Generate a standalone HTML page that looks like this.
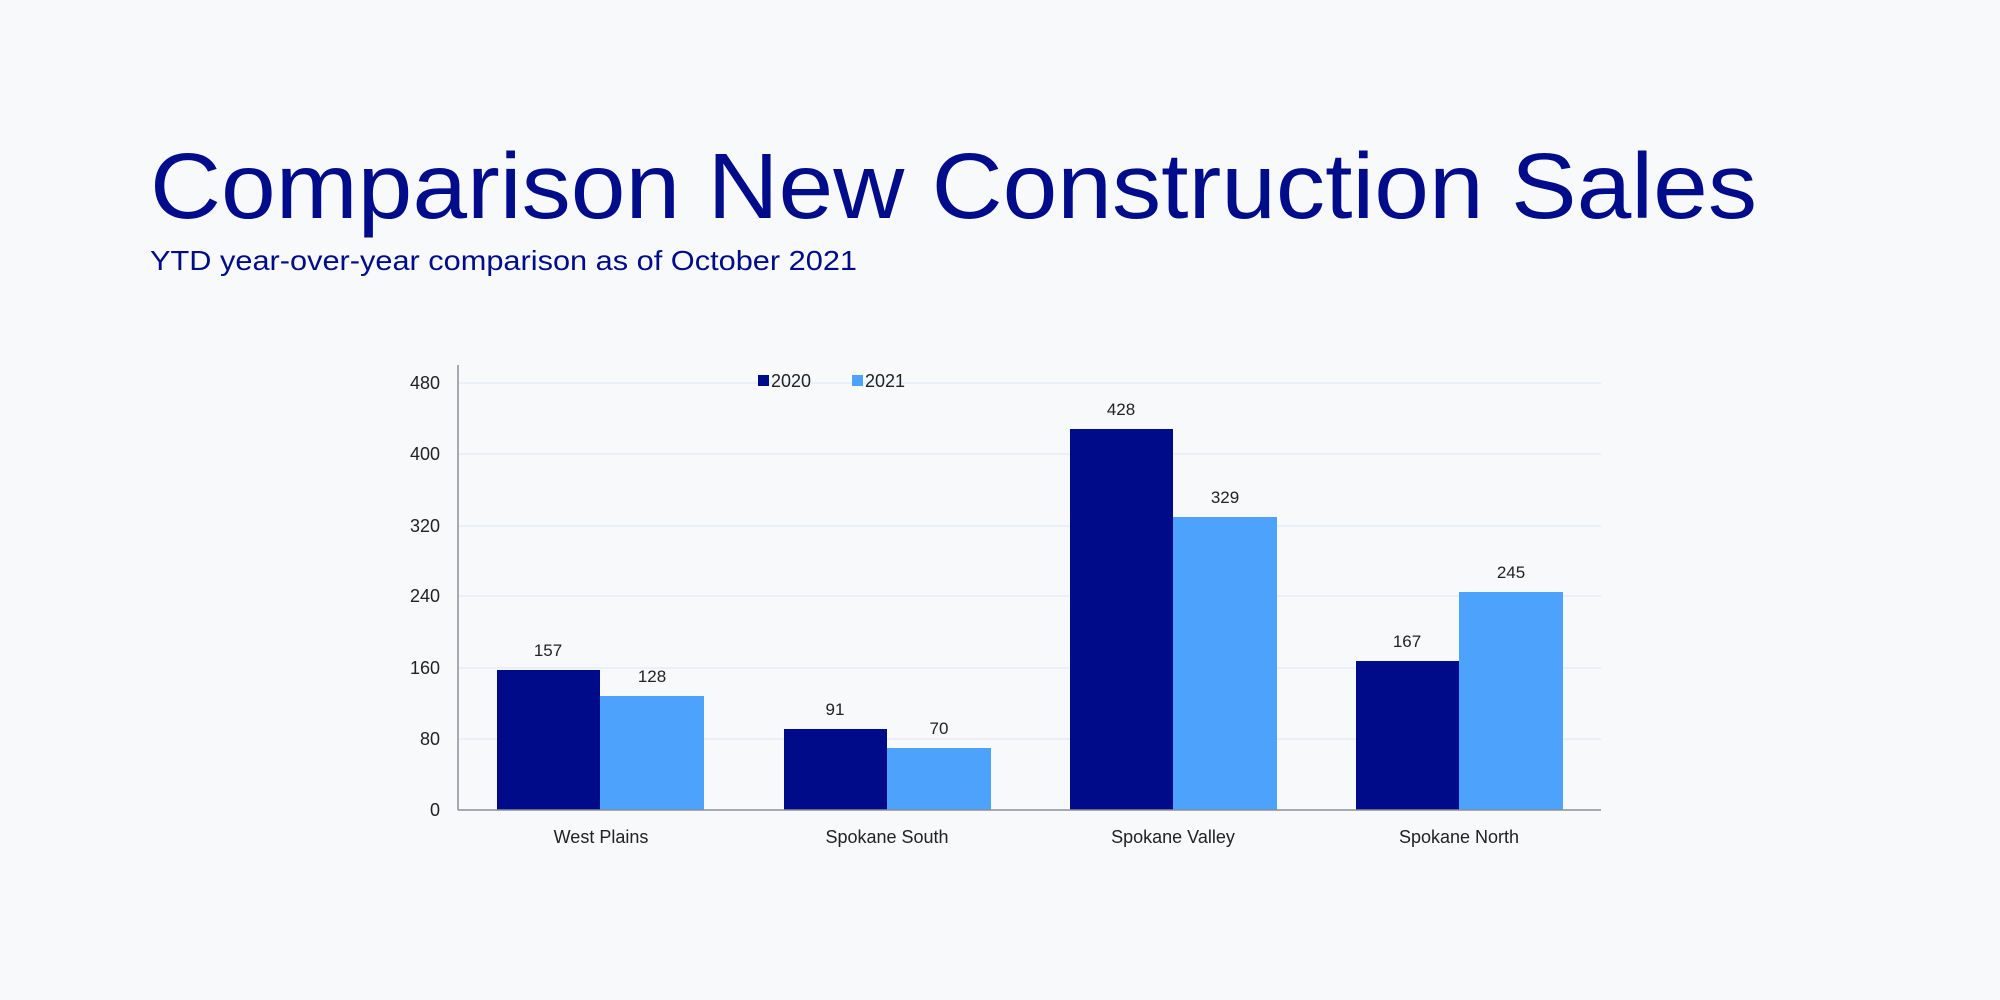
<!DOCTYPE html>
<html><head><meta charset="utf-8"><style>
html,body{margin:0;padding:0;background:#f7f9fa;}
svg{display:block;font-family:"Liberation Sans",sans-serif;}
</style></head><body>
<svg width="2000" height="1000" viewBox="0 0 2000 1000">
<rect width="2000" height="1000" fill="#f7f9fa"/>
<text x="150" y="218" font-size="93" fill="#000c8a" textLength="1607" lengthAdjust="spacingAndGlyphs">Comparison New Construction Sales</text>
<text x="150" y="270" font-size="28" fill="#000c8a" textLength="707" lengthAdjust="spacingAndGlyphs">YTD year-over-year comparison as of October 2021</text>
<g stroke="#e6eefa" stroke-width="1.5">
<line x1="458" x2="1601" y1="383" y2="383"/>
<line x1="458" x2="1601" y1="454" y2="454"/>
<line x1="458" x2="1601" y1="526" y2="526"/>
<line x1="458" x2="1601" y1="596" y2="596"/>
<line x1="458" x2="1601" y1="668" y2="668"/>
<line x1="458" x2="1601" y1="739" y2="739"/>
</g>
<g font-size="18" fill="#222" text-anchor="end">
<text x="440" y="389">480</text><text x="440" y="460">400</text><text x="440" y="532">320</text>
<text x="440" y="602">240</text><text x="440" y="674">160</text><text x="440" y="745">80</text><text x="440" y="816">0</text>
</g>
<g fill="#000b8a">
<rect x="497" y="670" width="103" height="140"/>
<rect x="784" y="729" width="103" height="81"/>
<rect x="1070" y="429" width="103" height="381"/>
<rect x="1356" y="661" width="103" height="149"/>
</g>
<g fill="#4da3fb">
<rect x="600" y="696" width="104" height="114"/>
<rect x="887" y="748" width="104" height="62"/>
<rect x="1173" y="517" width="104" height="293"/>
<rect x="1459" y="592" width="104" height="218"/>
</g>
<line x1="458" y1="365" x2="458" y2="810" stroke="#8a8f96" stroke-width="1.5"/>
<line x1="458" y1="810" x2="1601" y2="810" stroke="#8a8f96" stroke-width="1.5"/>
<g font-size="17" fill="#222" text-anchor="middle">
<text x="548" y="656">157</text><text x="652" y="682">128</text>
<text x="835" y="715">91</text><text x="939" y="734">70</text>
<text x="1121" y="415">428</text><text x="1225" y="503">329</text>
<text x="1407" y="647">167</text><text x="1511" y="578">245</text>
</g>
<g font-size="18" fill="#222" text-anchor="middle">
<text x="601" y="843">West Plains</text><text x="887" y="843">Spokane South</text>
<text x="1173" y="843">Spokane Valley</text><text x="1459" y="843">Spokane North</text>
</g>
<rect x="758" y="375" width="11" height="11" fill="#000b8a"/>
<text x="771" y="387" font-size="18" fill="#222">2020</text>
<rect x="852" y="375" width="11" height="11" fill="#4da3fb"/>
<text x="865" y="387" font-size="18" fill="#222">2021</text>
</svg>
</body></html>
